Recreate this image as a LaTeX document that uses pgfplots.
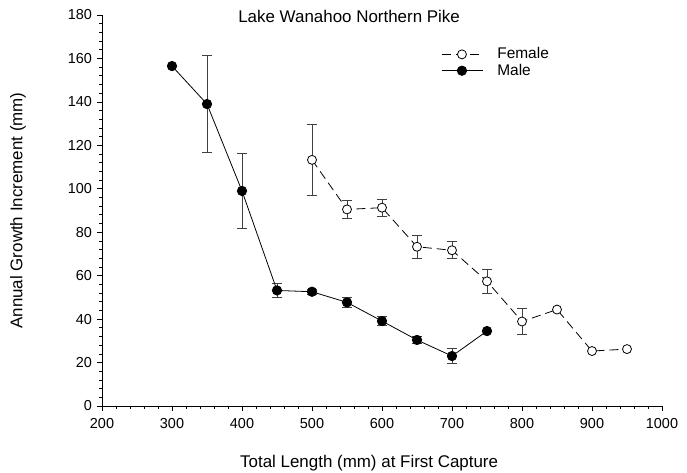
\documentclass[border=0pt]{standalone}
\usepackage{fontspec}
\setmainfont{Liberation Sans}
\usepackage{pgfplots}
\pgfplotsset{compat=1.18}
\begin{document}
\fontsize{14.5}{17}\selectfont
\begin{tikzpicture}
\useasboundingbox (-102bp,-67bp) rectangle (585bp,406bp);
\begin{axis}[
  scale only axis,
  width=560bp, height=391bp,
  xmin=200, xmax=1000, ymin=0, ymax=180,
  axis x line*=bottom, axis y line*=left,
  axis line style={-, black, line width=0.8pt},
  xtick={200,300,...,1000}, ytick={0,20,...,180},
  minor x tick num=4, minor y tick num=4,
  tick align=outside,
  major tick length=5bp, minor tick length=3bp,
  tick style={black, line width=0.7pt},
  /pgf/number format/assume math mode=true,
  /pgf/number format/1000 sep={},
  tick label style={font=\fontsize{14.5}{17}\selectfont},
  xticklabel style={yshift=-2bp},
  xlabel={Total Length (mm) at First Capture},
  ylabel={Annual Growth Increment (mm)},
  xlabel style={at={(axis description cs:0.477,-0.146)}, anchor=center},
  ylabel style={at={(axis description cs:-0.15,0.5)}, anchor=center},
  label style={font=\fontsize{17}{20}\selectfont},
  clip=false,
  legend style={at={(axis description cs:0.606,0.922)}, anchor=north west, draw=none, fill=none,
    font=\fontsize{15.5}{18}\selectfont, row sep=-1bp, column sep=12bp, inner sep=0pt},
  legend cell align=left,
  legend image code/.code={%
    \draw[mark repeat=2, mark phase=2] plot coordinates {(0bp,0bp) (20bp,0bp) (41bp,0bp)};},
]
% error bars (under markers)
\addplot[forget plot, draw=none, mark=none,
  error bars/.cd, y dir=both, y explicit,
  error bar style={draw=black!75, solid, line width=0.9pt},
  error mark options={rotate=90, mark size=5bp, draw=black!75, line width=0.9pt}]
  table[x=x, y=y, y error=e] {
x y e
350 139 22.3
400 99 17.3
450 53.2 3.4
500 52.6 1.2
550 47.7 2.3
600 39.1 2.0
650 30.4 1.5
700 23.0 3.5
};
\addplot[forget plot, draw=none, mark=none,
  error bars/.cd, y dir=both, y explicit,
  error bar style={draw=black!75, solid, line width=0.9pt},
  error mark options={rotate=90, mark size=5bp, draw=black!75, line width=0.9pt}]
  table[x=x, y=y, y error=e] {
x y e
500 113.3 16.2
550 90.5 4.0
600 91.3 3.9
650 73.3 5.4
700 71.7 4.0
750 57.4 5.6
800 38.9 5.8
};
% series
\addplot[black, line width=0.8pt, dash pattern=on 9bp off 5bp,
  mark=*, mark size=4.5bp, mark options={solid, fill=white, draw=black, line width=0.8pt}]
  table {
x y
500 113.3
550 90.5
600 91.3
650 73.3
700 71.7
750 57.4
800 38.9
850 44.4
900 25.3
950 26.2
};
\addlegendentry{Female}
\addplot[black, line width=0.8pt,
  mark=*, mark size=4.7bp, mark options={solid, fill=black, draw=black}]
  table {
x y
300 156.5
350 139
400 99
450 53.2
500 52.6
550 47.7
600 39.1
650 30.4
700 23.0
750 34.5
};
\addlegendentry{Male}
\node[anchor=center, font=\fontsize{17}{20}\selectfont] at (axis cs:553,179.5) {Lake Wanahoo Northern Pike};
\end{axis}
\end{tikzpicture}
\end{document}
